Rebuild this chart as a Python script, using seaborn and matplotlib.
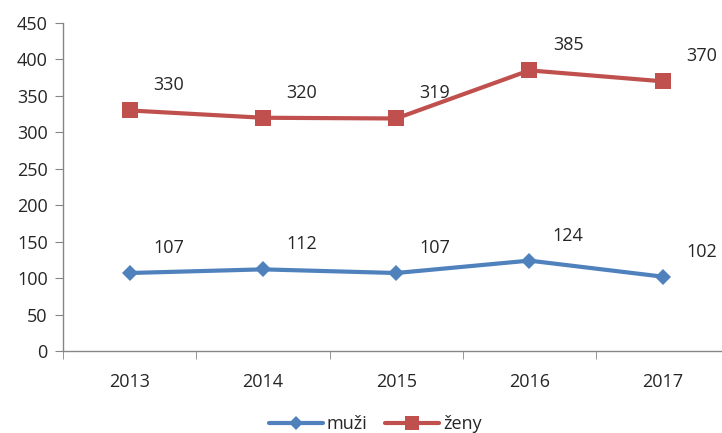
import numpy as np
import pandas as pd
import matplotlib
matplotlib.use('Agg')
import matplotlib.pyplot as plt
import seaborn as sns

# Data
years = ['2013', '2014', '2015', '2016', '2017']
muzi = [107, 112, 107, 124, 102]
zeny = [330, 320, 319, 385, 370]

df = pd.DataFrame({
    'rok': years * 2,
    'x': list(range(len(years))) * 2,
    'pocet': muzi + zeny,
    'pohlavi': ['muži'] * len(years) + ['ženy'] * len(years),
})

sns.set_style('white')
plt.rcParams['font.family'] = ['Open Sans', 'DejaVu Sans']

fig = plt.figure(figsize=(7.22, 4.33), dpi=100)
ax = fig.add_axes([63 / 722, 82 / 433, 1 - 63 / 722 - 0.001, (351 - 23) / 433])

colors = {'muži': '#4F81BD', 'ženy': '#C0504D'}
sns.lineplot(data=df, x='x', y='pocet', hue='pohlavi', style='pohlavi',
             markers={'muži': 'D', 'ženy': 's'}, dashes=False,
             palette=colors, linewidth=3, markeredgewidth=0,
             ax=ax, legend=True)
# marker sizes per series
for line in ax.lines:
    if line.get_marker() == 'D':
        line.set_markersize(8)
    elif line.get_marker() == 's':
        line.set_markersize(11)

# value labels
for _, r in df.iterrows():
    ax.annotate(str(r['pocet']), (r['x'], r['pocet']), xytext=(28, 18),
                textcoords='offset points', ha='center', va='center',
                fontsize=13, color='#262626')

ax.set_ylim(0, 450)
ax.set_yticks(range(0, 451, 50))
ax.set_xlim(-0.5, 4.44)
ax.set_xticks(range(len(years)))
ax.set_xticklabels(years)
ax.set_xticks(np.arange(-0.5, 4.5, 1), minor=True)
ax.set_xlabel('')
ax.set_ylabel('')

for s in ['top', 'right']:
    ax.spines[s].set_visible(False)
for s in ['left', 'bottom']:
    ax.spines[s].set_color('#868686')
    ax.spines[s].set_linewidth(1)

ax.tick_params(axis='y', which='major', left=True, length=6, color='#868686',
               labelsize=13, labelcolor='#262626', pad=5)
ax.tick_params(axis='x', which='major', bottom=False, labelsize=13,
               labelcolor='#262626', pad=12)
ax.tick_params(axis='x', which='minor', bottom=True, length=6, color='#868686')

ax.get_legend().remove()
handles, labels = ax.get_legend_handles_labels()
leg = fig.legend(handles, labels, loc='center', bbox_to_anchor=(375 / 722, 9 / 433),
                 ncol=2, frameon=False, fontsize=13, handlelength=3.0,
                 columnspacing=1.0, handletextpad=0.2, markerscale=0.9)
for h in leg.legend_handles:
    h.set_linewidth(3)

fig.savefig('out.png', dpi=100)
